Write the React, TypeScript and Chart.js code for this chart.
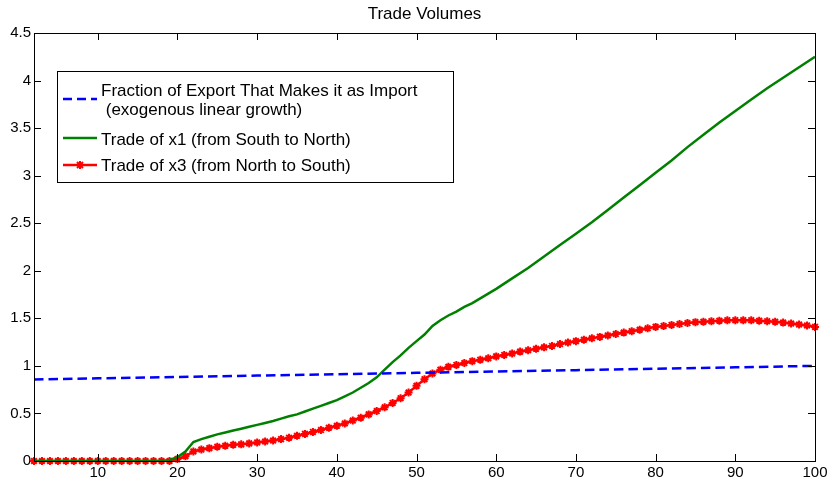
import React, { useEffect, useRef } from "react";
import { Chart, registerables } from "chart.js";

Chart.register(...registerables);

// ---- axis ticks ----
const xTickValues = [10, 20, 30, 40, 50, 60, 70, 80, 90, 100];
const yTickValues = [0, 0.5, 1, 1.5, 2, 2.5, 3, 3.5, 4, 4.5];
const yTickLabels = ["0", "0.5", "1", "1.5", "2", "2.5", "3", "3.5", "4", "4.5"];

const chartTitle = "Trade Volumes";
const seriesNames = [
  ["Fraction of Export That Makes it as Import", " (exogenous linear growth)"],
  ["Trade of x1 (from South to North)"],
  ["Trade of x3 (from North to South)"],
];

// ---- series 1: fraction of export that makes it as import (blue dashed) ----
const fractionX = [2, 10, 20, 30, 40, 50, 60, 70, 80, 90, 100];
const fractionY = [0.857, 0.869, 0.883, 0.898, 0.912, 0.927, 0.941, 0.955, 0.97, 0.985, 1.0];

// ---- series 2: trade of x1 (green) ----
const tradeX1X = [
  2, 18, 19, 20, 21, 22, 23, 24, 25, 26, 27, 28, 29, 30, 31, 32, 33, 34, 35, 36, 37, 38, 39, 40,
  41, 42, 43, 44, 45, 46, 47, 48, 49, 50, 51, 52, 53, 54, 55, 56, 57, 58, 59, 60,
  62, 64, 66, 68, 70, 72, 74, 76, 78, 80, 82, 84, 86, 88, 90, 92, 94, 96, 98, 100,
];
const tradeX1Y = [
  0, 0, 0.01, 0.04, 0.1, 0.2, 0.23, 0.255, 0.28, 0.3, 0.32, 0.34, 0.36, 0.38, 0.4, 0.42, 0.445, 0.47, 0.49, 0.52, 0.55, 0.58, 0.61, 0.64,
  0.68, 0.72, 0.77, 0.82, 0.88, 0.96, 1.04, 1.11, 1.19, 1.26, 1.33, 1.42, 1.48, 1.53, 1.57, 1.62, 1.66, 1.71, 1.76, 1.81,
  1.92, 2.03, 2.15, 2.27, 2.39, 2.51, 2.64, 2.77, 2.9, 3.03, 3.16, 3.3, 3.43, 3.56, 3.68, 3.8, 3.92, 4.03, 4.14, 4.25,
];

// ---- series 3: trade of x3 (red with markers), one value per period 2..100 ----
const periods = Array.from({ length: 99 }, (_, i) => i + 2);
const tradeX3Y = [
  // 2..19
  0, 0, 0, 0, 0, 0, 0, 0, 0, 0, 0, 0, 0, 0, 0, 0, 0, 0,
  // 20..29
  0.02, 0.05, 0.1, 0.12, 0.135, 0.15, 0.16, 0.17, 0.175, 0.185,
  // 30..39
  0.195, 0.205, 0.215, 0.23, 0.245, 0.265, 0.285, 0.305, 0.325, 0.35,
  // 40..49
  0.37, 0.395, 0.425, 0.455, 0.49, 0.525, 0.565, 0.61, 0.66, 0.72,
  // 50..59
  0.79, 0.86, 0.92, 0.96, 0.99, 1.01, 1.03, 1.05, 1.065, 1.08,
  // 60..69
  1.1, 1.115, 1.13, 1.15, 1.165, 1.18, 1.195, 1.21, 1.23, 1.245,
  // 70..79
  1.26, 1.275, 1.29, 1.305, 1.32, 1.335, 1.35, 1.365, 1.38, 1.395,
  // 80..89
  1.41, 1.42, 1.43, 1.44, 1.45, 1.46, 1.465, 1.47, 1.475, 1.48,
  // 90..100
  1.48, 1.48, 1.48, 1.475, 1.47, 1.465, 1.455, 1.445, 1.435, 1.425, 1.41,
];

const BLUE = "#0000ff";
const GREEN = "#008000";
const RED = "#ff0000";
const FONT = "'Liberation Sans', Arial, sans-serif";

const framePlugin = {
  id: "matlabFrame",
  afterDraw(chart: any) {
    const { ctx, chartArea: a, scales } = chart;
    const xs = scales.x;
    const ys = scales.y;
    ctx.save();
    ctx.strokeStyle = "#000";
    ctx.lineWidth = 1;
    ctx.setLineDash([]);
    // box
    ctx.strokeRect(a.left + 0.5, a.top + 0.5, a.right - a.left, a.bottom - a.top);
    const tl = 7;
    ctx.beginPath();
    xTickValues.forEach((v) => {
      const px = Math.round(xs.getPixelForValue(v)) + 0.5;
      ctx.moveTo(px, a.bottom);
      ctx.lineTo(px, a.bottom - tl);
      ctx.moveTo(px, a.top);
      ctx.lineTo(px, a.top + tl);
    });
    yTickValues.forEach((v) => {
      const py = Math.round(ys.getPixelForValue(v)) + 0.5;
      ctx.moveTo(a.left, py);
      ctx.lineTo(a.left + tl, py);
      ctx.moveTo(a.right, py);
      ctx.lineTo(a.right - tl, py);
    });
    ctx.stroke();

    // legend
    const lx = a.left + 23;
    const ly = a.top + 38;
    const lw = 396;
    const lh = 111;
    ctx.fillStyle = "#fff";
    ctx.fillRect(lx, ly, lw, lh);
    ctx.strokeStyle = "#000";
    ctx.lineWidth = 1;
    ctx.strokeRect(lx + 0.5, ly + 0.5, lw, lh);

    const s0 = lx + 6;
    const s1 = lx + 40;
    const tx = lx + 44;
    ctx.lineCap = "butt";
    // blue
    ctx.strokeStyle = BLUE;
    ctx.lineWidth = 2.5;
    ctx.setLineDash([9, 5]);
    ctx.beginPath();
    ctx.moveTo(s0, ly + 28);
    ctx.lineTo(s1, ly + 28);
    ctx.stroke();
    ctx.setLineDash([]);
    // green
    ctx.strokeStyle = GREEN;
    ctx.beginPath();
    ctx.moveTo(s0, ly + 67);
    ctx.lineTo(s1, ly + 67);
    ctx.stroke();
    // red
    ctx.strokeStyle = RED;
    ctx.beginPath();
    ctx.moveTo(s0, ly + 94);
    ctx.lineTo(s1, ly + 94);
    ctx.stroke();
    const mx = (s0 + s1) / 2;
    const my = ly + 94;
    ctx.lineWidth = 2;
    ctx.beginPath();
    ctx.moveTo(mx - 4, my);
    ctx.lineTo(mx + 4, my);
    ctx.moveTo(mx, my - 4);
    ctx.lineTo(mx, my + 4);
    ctx.moveTo(mx - 3, my - 3);
    ctx.lineTo(mx + 3, my + 3);
    ctx.moveTo(mx - 3, my + 3);
    ctx.lineTo(mx + 3, my - 3);
    ctx.stroke();

    ctx.fillStyle = "#000";
    ctx.font = `17px ${FONT}`;
    ctx.textBaseline = "middle";
    ctx.textAlign = "left";
    ctx.fillText(seriesNames[0][0], tx, ly + 20);
    ctx.fillText(seriesNames[0][1], tx, ly + 39);
    ctx.fillText(seriesNames[1][0], tx, ly + 69);
    ctx.fillText(seriesNames[2][0], tx, ly + 95);
    ctx.restore();
  },
};

export default function App() {
  const canvasRef = useRef<HTMLCanvasElement | null>(null);

  useEffect(() => {
    document.body.style.margin = "0";
    const canvas = canvasRef.current;
    if (!canvas) return;
    const chart = new Chart(canvas, {
      type: "line",
      data: {
        datasets: [
          {
            label: seriesNames[0].join(""),
            data: fractionX.map((x, i) => ({ x, y: fractionY[i] })),
            borderColor: BLUE,
            backgroundColor: BLUE,
            borderWidth: 2.5,
            borderDash: [9.5, 5],
            pointRadius: 0,
            tension: 0,
            fill: false,
          },
          {
            label: seriesNames[1][0],
            data: tradeX1X.map((x, i) => ({ x, y: tradeX1Y[i] })),
            borderColor: GREEN,
            backgroundColor: GREEN,
            borderWidth: 2.5,
            pointRadius: 0,
            tension: 0,
            fill: false,
          },
          {
            label: seriesNames[2][0],
            data: periods.map((x, i) => ({ x, y: tradeX3Y[i] })),
            borderColor: RED,
            backgroundColor: RED,
            borderWidth: 2.5,
            pointRadius: 4,
            pointStyle: "star",
            pointBorderWidth: 2,
            pointBorderColor: RED,
            pointBackgroundColor: RED,
            tension: 0,
            fill: false,
            clip: false as any,
          },
        ],
      },
      options: {
        animation: false,
        responsive: false,
        devicePixelRatio: 1,
        layout: { padding: { top: 0, right: 18, bottom: 0, left: 0 } },
        plugins: {
          legend: { display: false },
          tooltip: { enabled: false },
          title: {
            display: true,
            text: chartTitle,
            fullSize: false,
            color: "#000",
            font: { size: 17, weight: "normal", family: FONT },
            padding: { top: 4, bottom: 8.6 },
          },
        },
        scales: {
          x: {
            type: "linear",
            min: 2,
            max: 100,
            grid: { display: false, drawTicks: false },
            border: { display: false },
            afterBuildTicks: (scale: any) => {
              scale.ticks = xTickValues.map((v) => ({ value: v }));
            },
            afterFit: (scale: any) => {
              scale.height = 24;
            },
            ticks: {
              color: "#000",
              font: { size: 15, family: FONT },
              padding: 3,
              maxRotation: 0,
              autoSkip: false,
              callback: (v: any) => String(v),
            },
          },
          y: {
            type: "linear",
            min: 0,
            max: 4.5,
            grid: { display: false, drawTicks: false },
            border: { display: false },
            afterBuildTicks: (scale: any) => {
              scale.ticks = yTickValues.map((v) => ({ value: v }));
            },
            afterFit: (scale: any) => {
              scale.width = 34;
            },
            ticks: {
              color: "#000",
              font: { size: 15, family: FONT },
              padding: 3,
              autoSkip: false,
              callback: (v: any) => {
                const i = yTickValues.indexOf(Number(v));
                return i >= 0 ? yTickLabels[i] : "";
              },
            },
          },
        },
      },
      plugins: [framePlugin],
    } as any);
    return () => chart.destroy();
  }, []);

  return (
    <div style={{ width: 833, height: 485 }}>
      <canvas ref={canvasRef} width={833} height={485} style={{ display: "block", width: 833, height: 485 }} />
    </div>
  );
}
